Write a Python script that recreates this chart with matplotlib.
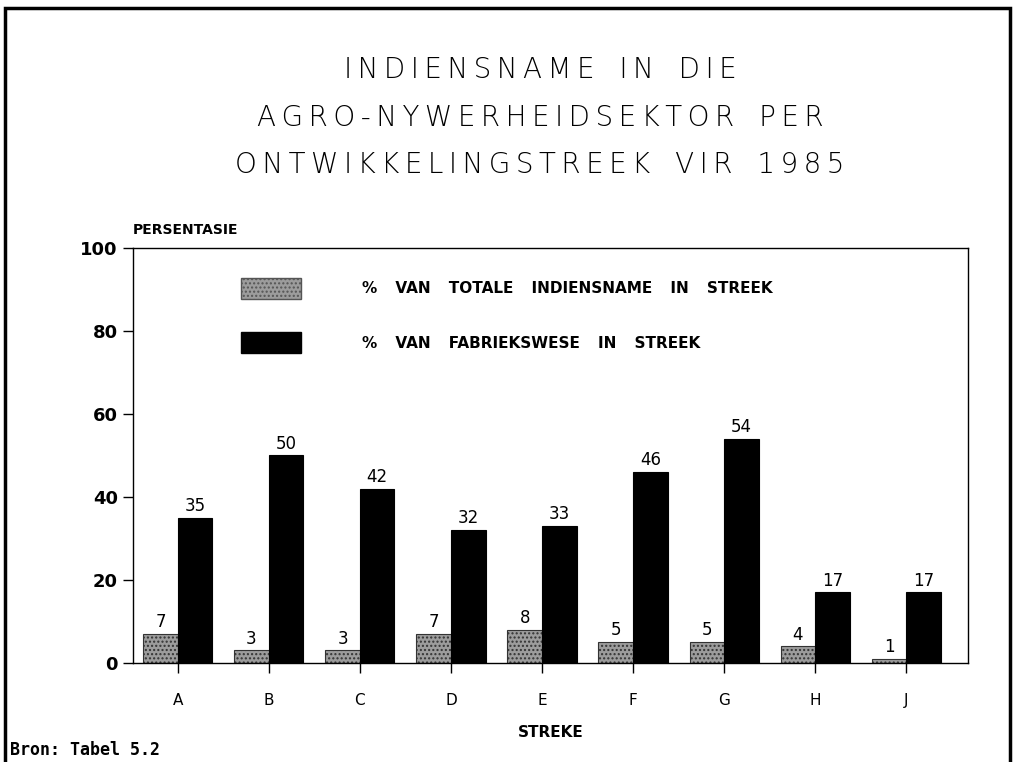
import numpy as np
import matplotlib.pyplot as plt
from matplotlib.patches import Patch, Rectangle

regions = ["A", "B", "C", "D", "E", "F", "G", "H", "J"]
total_share = [7, 3, 3, 7, 8, 5, 5, 4, 1]
factory_share = [35, 50, 42, 32, 33, 46, 54, 17, 17]
yticks = [0, 20, 40, 60, 80, 100]

title_lines = [
    "INDIENSNAME IN DIE",
    "AGRO-NYWERHEIDSEKTOR PER",
    "ONTWIKKELINGSTREEK VIR 1985",
]
label_total = "% VAN TOTALE INDIENSNAME IN STREEK"
label_factory = "% VAN FABRIEKSWESE IN STREEK"


def spaced(s):
    # wide letter spacing like the plotter font
    return "\u2009".join(s.replace(" ", "\u2002"))


def wide_words(s):
    return s.replace(" ", "  \u2002")


def main() -> None:
    fig = plt.figure(figsize=(10.16, 7.62), dpi=100)
    ax = fig.add_axes([0.131, 0.13, 0.822, 0.545])

    x = np.arange(len(regions))
    w = 0.38
    ax.bar(x - w, total_share, w, align="edge", color="#9c9c9c",
           edgecolor="#333333", hatch="....", linewidth=0.8)
    ax.bar(x, factory_share, w, align="edge", color="black",
           edgecolor="black", linewidth=0.8)

    for xi, v in zip(x, total_share):
        ax.annotate(str(v), (xi - w / 2, v), xytext=(0, 2),
                    textcoords="offset points", ha="center", va="bottom",
                    fontsize=12)
    for xi, v in zip(x, factory_share):
        ax.annotate(str(v), (xi + w / 2, v), xytext=(0, 2),
                    textcoords="offset points", ha="center", va="bottom",
                    fontsize=12)

    ax.set_xlim(-0.49, 8.68)
    ax.set_ylim(0, 100)
    ax.set_yticks(yticks)
    ax.set_yticklabels([str(t) for t in yticks], fontsize=13, fontweight="bold")
    ax.set_xticks(x)
    ax.set_xticklabels(regions, fontsize=11)
    ax.tick_params(axis="both", direction="out", length=7, width=1)
    ax.tick_params(axis="x", pad=15)
    ax.tick_params(axis="y", pad=4)
    for s in ax.spines.values():
        s.set_linewidth(1)

    ax.set_xlabel("STREKE", fontsize=11, fontweight="bold", labelpad=12)
    ax.text(0.0, 1.025, "PERSENTASIE", transform=ax.transAxes,
            fontsize=10, fontweight="bold", ha="left", va="bottom")

    handles = [
        Patch(facecolor="#9c9c9c", edgecolor="#555555", hatch="...."),
        Patch(facecolor="black", edgecolor="black"),
    ]
    ax.legend(handles, [wide_words(label_total), wide_words(label_factory)],
              loc="upper left", bbox_to_anchor=(0.113, 0.96), frameon=False,
              handlelength=3.9, handleheight=1.7, labelspacing=2.2,
              handletextpad=4.0,
              prop={"size": 11, "weight": "bold"})

    for yp, line in zip([70, 118, 165], title_lines):
        fig.text(540 / 1016, 1 - yp / 762, spaced(line), ha="center",
                 va="center", fontsize=20, fontweight="light")
    fig.text(0.01, 0.004, "Bron: Tabel 5.2", ha="left", va="bottom",
             fontsize=12, fontweight="bold", family="DejaVu Sans Mono")

    frame = Rectangle((0.005, -0.02), 0.989, 1.009, transform=fig.transFigure,
                      fill=False, edgecolor="black", linewidth=2.5,
                      clip_on=False)
    fig.patches.append(frame)

    fig.savefig("out.png", dpi=100)
    plt.close(fig)


if __name__ == "__main__":
    main()
